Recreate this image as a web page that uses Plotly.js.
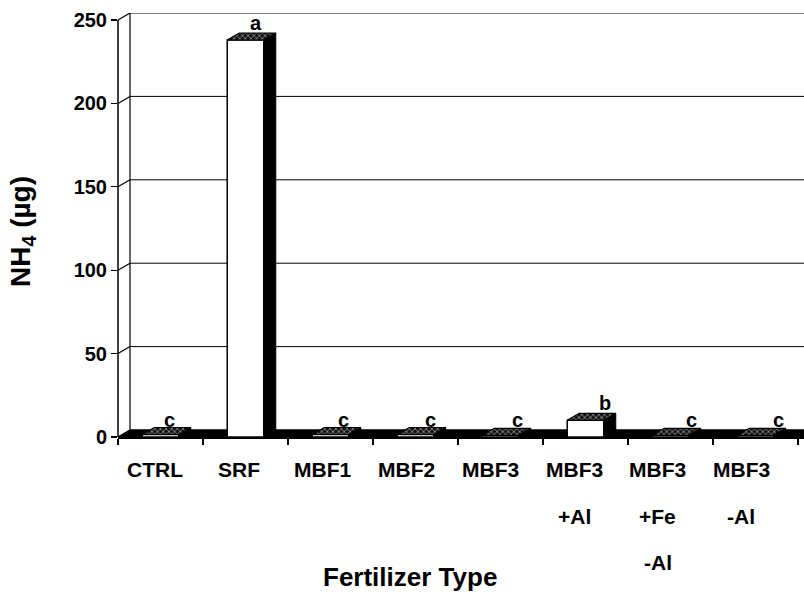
<!DOCTYPE html>
<html>
<head>
<meta charset="utf-8">
<script src="https://cdn.plot.ly/plotly-3.0.1.min.js"></script>
<style>html,body{margin:0;padding:0;background:#fff;}#chart{width:804px;height:603px;}</style>
</head>
<body>
<div id="chart"></div>
<script>
// ---- data ----
const categories = ["CTRL", "SRF", "MBF1", "MBF2", "MBF3", "MBF3 +Al", "MBF3 +Fe -Al", "MBF3 -Al"];
const tickLabelLines = [["CTRL"], ["SRF"], ["MBF1"], ["MBF2"], ["MBF3"], ["MBF3", "+Al"], ["MBF3", "+Fe", "-Al"], ["MBF3", "-Al"]];
const nh4Values = [1.5, 238, 1.5, 1.5, 1, 10, 1, 1];
const groupLetters = ["c", "a", "c", "c", "c", "b", "c", "c"];
const yTicks = [0, 50, 100, 150, 200, 250];

// ---- geometry (styling) ----
const L = 118, T = 13, B = 166, W = 804, H = 603;
const plotW = W - L, plotH = H - T - B;
const catPx = 85;
const xMin = -0.5, xMax = xMin + plotW / catPx;
const pxPerUnit = 417 / 250;
const yMax = plotH / pxPerUnit;
const depthX = 12 / catPx;        // in category units
const depthY = 7 / pxPerUnit;     // in value units
const depthXpaper = 12 / plotW;
const barW = 0.43;

const xs = categories.map((c, i) => i);

// side and top faces built from the values
const sideX = [], sideY = [], topX = [], topY = [];
nh4Values.forEach((v, i) => {
  const xl = i - barW / 2, xr = i + barW / 2;
  sideX.push(xr, xr + depthX, xr + depthX, xr, xr, null);
  sideY.push(0, depthY, v + depthY, v, 0, null);
  topX.push(xl, xr, xr + depthX, xl + depthX, xl, null);
  topY.push(v, v, v + depthY, v + depthY, v, null);
});

const font = {family: "Liberation Sans, Arial, sans-serif", color: "#000"};
const bold = size => Object.assign({}, font, {size: size, weight: "bold"});

const traces = [
  {type: "bar", x: xs, y: nh4Values, width: barW,
   marker: {color: "#fff", line: {color: "#000", width: 1.5}},
   hoverinfo: "skip", showlegend: false},
  {type: "scatter", mode: "lines", x: sideX, y: sideY, fill: "toself",
   fillcolor: "#000", line: {color: "#000", width: 1}, hoverinfo: "skip", showlegend: false},
  {type: "scatter", mode: "lines", x: topX, y: topY, fill: "toself",
   fillcolor: "#111",
   fillpattern: {shape: "x", bgcolor: "#111", fgcolor: "#ddd", size: 4, solidity: 0.25},
   line: {color: "#000", width: 1.2}, hoverinfo: "skip", showlegend: false}
];

const shapes = [];
// floor (black band)
shapes.push({type: "path", layer: "below", xref: "x", yref: "y",
  path: `M ${xMin} 0 L ${xMax} 0 L ${xMax + depthX} ${depthY} L ${xMin + depthX} ${depthY} Z`,
  fillcolor: "#000", line: {color: "#000", width: 1}});
// back wall gridlines + diagonals
yTicks.forEach(v => {
  shapes.push({type: "line", layer: "below", xref: "paper", yref: "y",
    x0: depthXpaper, x1: 1, y0: v + depthY, y1: v + depthY, line: {color: "#000", width: 1}});
  shapes.push({type: "line", layer: "below", xref: "paper", yref: "y",
    x0: 0, x1: depthXpaper, y0: v, y1: v + depthY, line: {color: "#000", width: 1.2}});
});
// front value axis line and back wall edge
shapes.push({type: "line", xref: "paper", yref: "y", x0: 0, x1: 0,
  y0: 0, y1: yTicks[yTicks.length - 1], line: {color: "#000", width: 1.5}});
shapes.push({type: "line", layer: "below", xref: "paper", yref: "y", x0: depthXpaper, x1: depthXpaper,
  y0: depthY, y1: yTicks[yTicks.length - 1] + depthY, line: {color: "#000", width: 1.2}});

const annotations = nh4Values.map((v, i) => ({
  x: i + 0.1 + 0.025 * i, y: v + depthY, xref: "x", yref: "y",
  text: groupLetters[i], showarrow: false, yanchor: "bottom", xanchor: "center",
  yshift: v < 5 ? -5 : -3,
  font: bold(20)
}));
// category labels, one annotation per line
tickLabelLines.forEach((lines, i) => {
  lines.forEach((ln, k) => {
    annotations.push({
      x: i - 0.06 - 0.015 * i, xref: "x", yref: "paper", y: (437 - 470) / plotH,
      yshift: -46 * k, text: ln, showarrow: false, xanchor: "center", yanchor: "middle",
      font: bold(21)
    });
  });
});
annotations.push({
  xref: "paper", yref: "paper", x: (22 - L) / plotW, y: (437 - 232) / plotH,
  text: "NH<sub>4</sub> (µg)", textangle: -90, showarrow: false,
  xanchor: "center", yanchor: "middle",
  font: bold(28)
});
annotations.push({
  xref: "paper", yref: "paper", x: (410 - L) / plotW, y: (437 - 577) / plotH,
  text: "Fertilizer Type", showarrow: false, xanchor: "center", yanchor: "middle",
  font: bold(26)
});

const layout = {
  width: W, height: H,
  margin: {l: L, r: 0, t: T, b: B, pad: 0},
  paper_bgcolor: "#fff", plot_bgcolor: "#fff",
  showlegend: false,
  xaxis: {
    range: [xMin, xMax], tickmode: "array", tickvals: xs, showticklabels: false,
    ticks: "", showgrid: false, zeroline: false,
    showline: true, linecolor: "#000", linewidth: 1.5,
    minor: {tickmode: "linear", tick0: 0.5, dtick: 1, ticks: "outside", ticklen: 6, tickcolor: "#000", tickwidth: 1.2, showgrid: false},
    fixedrange: true
  },
  yaxis: {
    range: [0, yMax], tickmode: "array", tickvals: yTicks,
    ticks: "outside", ticklen: 6, tickcolor: "#000", tickwidth: 1.2,
    showgrid: false, zeroline: false, showline: false,
    tickfont: bold(20),
    fixedrange: true
  },
  shapes: shapes,
  annotations: annotations
};

Plotly.newPlot("chart", traces, layout, {staticPlot: true, displayModeBar: false});
</script>
</body>
</html>
